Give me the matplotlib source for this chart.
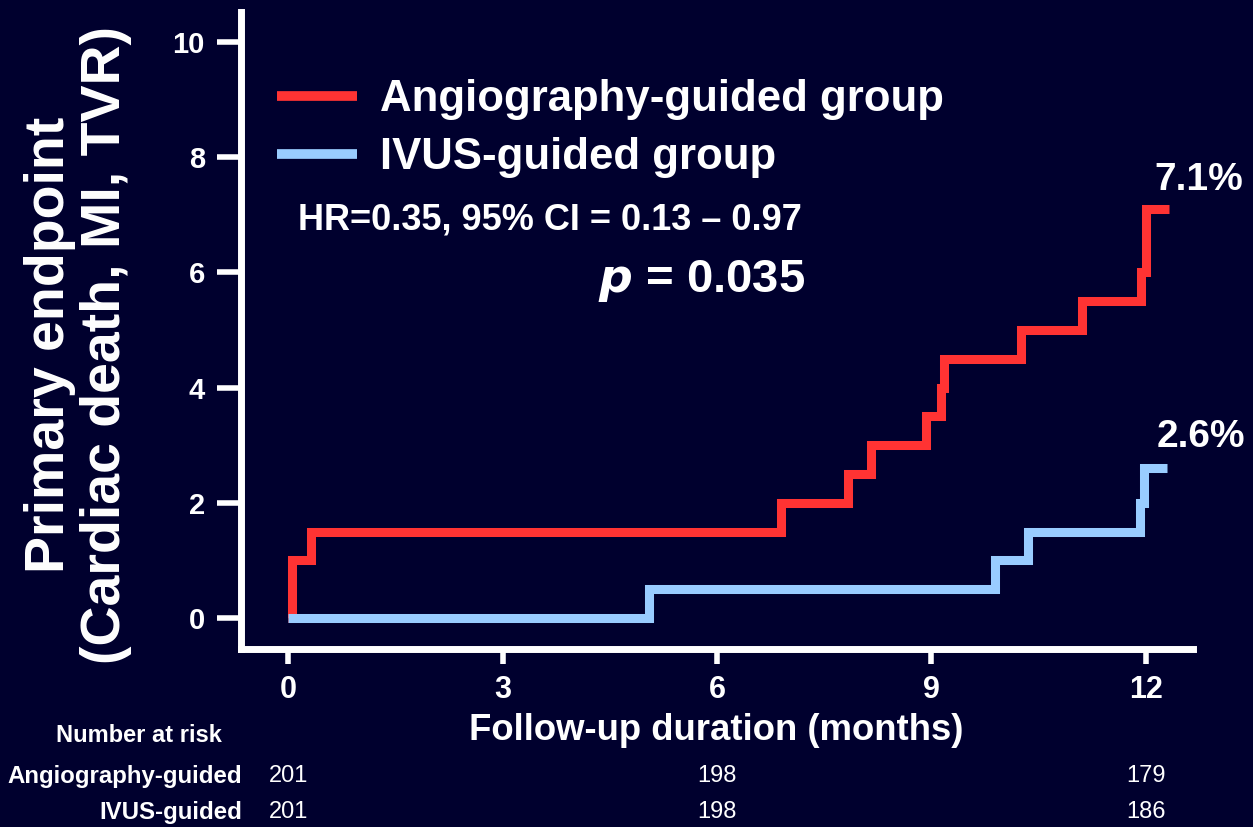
import matplotlib
matplotlib.use("Agg")
import matplotlib.pyplot as plt
import matplotlib.transforms as mtransforms
from matplotlib.lines import Line2D

# Kaplan-Meier style cumulative event curves (months, %)
angio_months = [0, 0.05, 0.32, 6.9, 7.83, 8.15, 8.93, 9.13, 9.18, 10.25, 11.1, 11.93, 12.0, 12.33]
angio_pct = [0, 1.0, 1.5, 2.0, 2.5, 3.0, 3.5, 4.0, 4.5, 5.0, 5.5, 6.0, 7.1, 7.1]
ivus_months = [0, 5.05, 9.89, 10.35, 11.92, 11.97, 12.3]
ivus_pct = [0, 0.5, 1.0, 1.5, 2.0, 2.6, 2.6]

x_ticks = [0, 3, 6, 9, 12]
y_ticks = [0, 2, 4, 6, 8, 10]

risk_months = [0, 6, 12]
risk_angio = [201, 198, 179]
risk_ivus = [201, 198, 186]

bg = "#00002e"
red = "#ff3333"
blue = "#99ccff"
W, H = 1253, 827

plt.rcParams["font.family"] = ["Liberation Sans", "DejaVu Sans"]

fig = plt.figure(figsize=(W / 100, H / 100), dpi=100, facecolor=bg)
ax = fig.add_axes([241 / W, 1 - 649 / H, (1193 - 241) / W, (649 - 12) / H])
ax.set_facecolor(bg)

ax.step(angio_months, angio_pct, where="post", color=red, lw=6.5,
        solid_joinstyle="miter", solid_capstyle="butt", label="Angiography-guided group")
ax.step(ivus_months, ivus_pct, where="post", color=blue, lw=6.5,
        solid_joinstyle="miter", solid_capstyle="butt", label="IVUS-guided group")

# axis ranges chosen so that 0..12 / 0..10 land where the reference puts them
ax.set_xlim(-0.66, 12.66)
ax.set_ylim(-0.54, 10.52)

for side in ["top", "right"]:
    ax.spines[side].set_visible(False)
for side in ["left", "bottom"]:
    ax.spines[side].set_color("white")
    ax.spines[side].set_linewidth(5)

ax.set_xticks(x_ticks)
ax.set_yticks(y_ticks)
ax.tick_params(axis="y", colors="white", length=17, width=4, pad=9, labelsize=21)
ax.tick_params(axis="x", colors="white", length=11, width=4, pad=8, labelsize=22)
for lab in ax.get_xticklabels() + ax.get_yticklabels():
    lab.set_fontweight("bold")

handles = [Line2D([], [], color=red, lw=7, solid_capstyle="butt"),
           Line2D([], [], color=blue, lw=7, solid_capstyle="butt")]
leg = ax.legend(handles, ["Angiography-guided group", "IVUS-guided group"],
                loc="upper left", bbox_to_anchor=(277 / W, 1 - 79 / H),
                bbox_transform=fig.transFigure, frameon=False,
                prop={"size": 31.5, "weight": "bold"}, handlelength=1.83,
                handletextpad=0.52, labelspacing=0.4, borderpad=0, borderaxespad=0)
for t in leg.get_texts():
    t.set_color("white")

fig.text(298 / W, 1 - 220 / H, "HR=0.35, 95% CI = 0.13 \u2013 0.97", color="white",
         fontsize=26, fontweight="bold", ha="left", va="center")
fig.text(805 / W, 1 - 281 / H, r"$\mathbfit{p}$ = 0.035", color="white",
         fontsize=34, fontweight="bold", ha="right", va="center")
fig.text(1243 / W, 1 - 180 / H, "7.1%", color="white", fontsize=28,
         fontweight="bold", ha="right", va="center")
fig.text(1245 / W, 1 - 437 / H, "2.6%", color="white", fontsize=28,
         fontweight="bold", ha="right", va="center")

fig.text(78 / W, 1 - 345 / H, "Primary endpoint\n(Cardiac death, MI, TVR)", color="white",
         fontsize=40, fontweight="bold", rotation=90, ha="center", va="center",
         linespacing=1.1)
fig.text(716 / W, 1 - 731 / H, "Follow-up duration (months)", color="white",
         fontsize=26.3, fontweight="bold", ha="center", va="center")

# number at risk table
trans = mtransforms.blended_transform_factory(ax.transData, fig.transFigure)
fig.text(222 / W, 1 - 735 / H, "Number at risk", color="white", fontsize=17,
         fontweight="bold", ha="right", va="center")
fig.text(242 / W, 1 - 776 / H, "Angiography-guided", color="white", fontsize=17.3,
         fontweight="bold", ha="right", va="center")
fig.text(242 / W, 1 - 812 / H, "IVUS-guided", color="white", fontsize=17.3,
         fontweight="bold", ha="right", va="center")
for m, a, b in zip(risk_months, risk_angio, risk_ivus):
    ax.text(m, 1 - 776 / H, str(a), transform=trans, color="white", fontsize=17,
            ha="center", va="center", clip_on=False)
    ax.text(m, 1 - 812 / H, str(b), transform=trans, color="white", fontsize=17,
            ha="center", va="center", clip_on=False)

fig.savefig("out.png", dpi=100, facecolor=bg)
